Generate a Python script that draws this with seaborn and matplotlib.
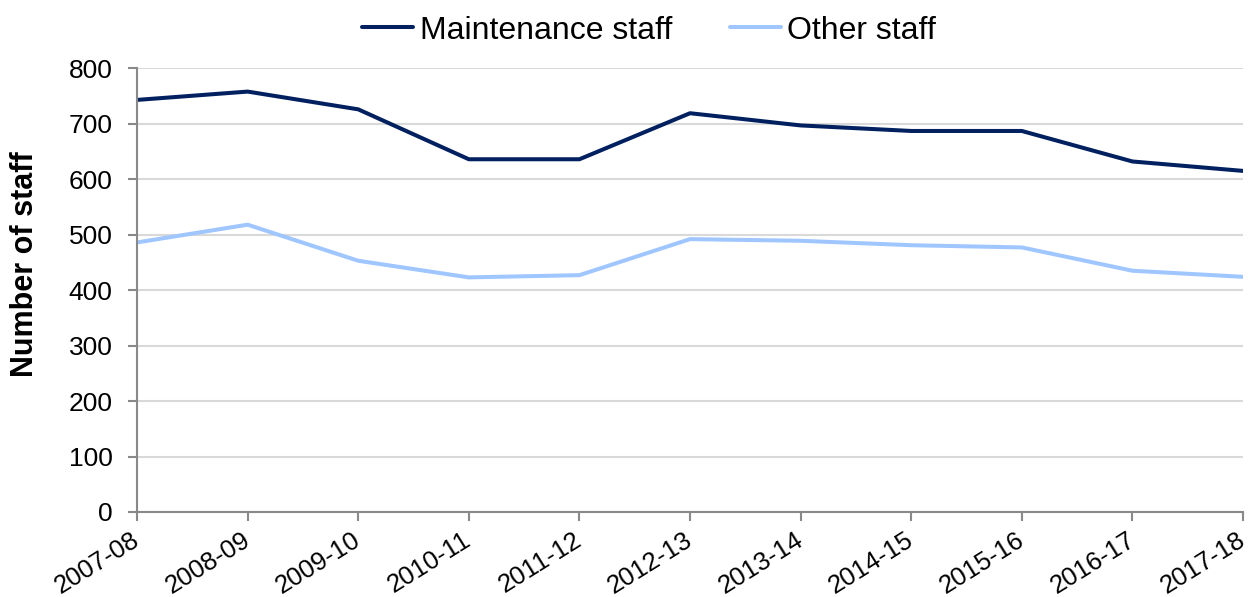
import pandas as pd
import matplotlib.pyplot as plt
import matplotlib.transforms as mtransforms
import seaborn as sns

years = ['2007-08', '2008-09', '2009-10', '2010-11', '2011-12', '2012-13',
         '2013-14', '2014-15', '2015-16', '2016-17', '2017-18']
maintenance = [743, 758, 726, 636, 636, 719, 697, 687, 687, 632, 615]
other = [486, 518, 453, 423, 427, 492, 489, 481, 477, 435, 424]

df = pd.DataFrame({
    'year': years * 2,
    'pos': list(range(len(years))) * 2,
    'staff': maintenance + other,
    'group': ['Maintenance staff'] * len(years) + ['Other staff'] * len(years),
})

sns.set_style('white')
plt.rcParams['font.family'] = ['Liberation Sans', 'DejaVu Sans']
plt.rcParams['text.color'] = 'black'

fig = plt.figure(figsize=(12.48, 5.97), dpi=100)
ax = fig.add_axes([0.1098, 0.1424, 0.8862, 0.7432])

sns.lineplot(data=df, x='pos', y='staff', hue='group',
             palette={'Maintenance staff': '#002060', 'Other staff': '#A0C6FF'},
             linewidth=2.9, ax=ax)

ax.set_xlim(0, len(years) - 1)
ax.set_ylim(0, 800)
ax.set_yticks(range(0, 801, 100))
ax.set_xticks(range(len(years)))
ax.set_xticklabels(years, rotation=32, ha='right', rotation_mode='anchor')
ax.tick_params(axis='both', colors='#898989', labelcolor='black',
               length=6.5, width=1.5, direction='out', bottom=True, left=True)
ax.tick_params(axis='y', labelsize=19, pad=11)
ax.tick_params(axis='x', labelsize=18.5, pad=2)

# nudge the slanted year labels so their right end sits under the tick
shift = mtransforms.ScaledTranslation(-0.06, -0.04, fig.dpi_scale_trans)
for lbl in ax.get_xticklabels():
    lbl.set_transform(lbl.get_transform() + shift)

ax.grid(axis='y', color='#d9d9d9', linewidth=1.5)
ax.set_axisbelow(True)
for side in ['top', 'right']:
    ax.spines[side].set_visible(False)
for side in ['left', 'bottom']:
    ax.spines[side].set_color('#898989')
    ax.spines[side].set_linewidth(1.5)

ax.set_xlabel('')
ax.set_ylabel('Number of staff', fontsize=22, fontweight='bold', color='black')
ax.yaxis.set_label_coords(-0.088, 0.559)

ax.legend(loc='center', bbox_to_anchor=(0.463, 1.085),
          ncol=2, frameon=False, fontsize=23, handlelength=1.6,
          handletextpad=0.2, columnspacing=1.8, labelcolor='black')

plt.savefig('out.png', dpi=100)
